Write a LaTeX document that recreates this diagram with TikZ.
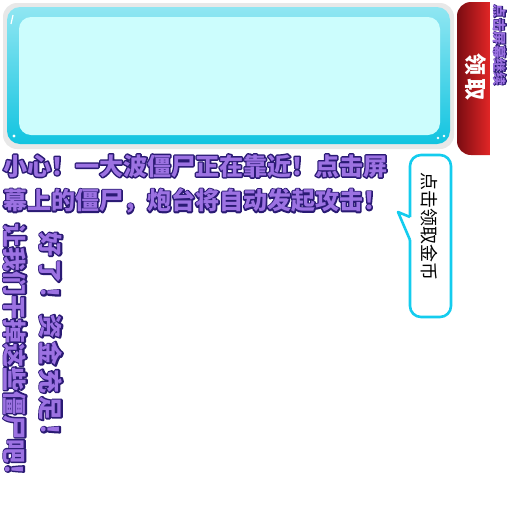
\documentclass[tikz,border=0pt]{standalone}
\usepackage{fontspec}
\usepackage{tikz}
\newfontfamily\cjk{Noto Sans CJK SC}
\definecolor{frameTop}{HTML}{90E6F2}
\definecolor{frameBot}{HTML}{12C4E0}
\definecolor{panelIn}{HTML}{CCFDFD}
\definecolor{tabDark}{HTML}{7A0C12}
\definecolor{tabLight}{HTML}{E22626}
\definecolor{tipFill}{HTML}{9C72E2}
\definecolor{tipLine}{HTML}{2A1A74}
\definecolor{bubLine}{HTML}{14CCEE}
% outlined text: a heavily emboldened dark copy under the purple one
\newcommand{\tiptext}[2][12]{\makebox[0pt][l]{\addfontfeature{FakeBold=#1}\textcolor{tipLine}{#2}}\textcolor{tipFill}{#2}}

\begin{document}
\begin{tikzpicture}[x=1pt,y=-1pt,
	tipnode/.style={inner sep=0pt,line join=round,font=\cjk\bfseries\fontsize{24}{24}\selectfont},
	vertnode/.style={tipnode,rotate=-90}]
			%%%%% START %%%%%
			\useasboundingbox (0,0) rectangle (512,512);
			
			% panel
			\fill[gray!18, rounded corners=14pt] (3,3) rectangle (454,149);
			\shade[top color=frameTop, bottom color=frameBot, rounded corners=13pt] (7,7) rectangle (450,144);
			\fill[panelIn, rounded corners=12pt] (19,17) rectangle (440,135);
			\fill[white] (14,136) circle (1.6);
			\fill[white] (438,138) circle (1.4);
			\fill[white] (444,136) circle (1.4);
			\draw[white, line width=1.2pt] (11,24) -- (13,15);
			
			% red tab
			\shade[left color=tabDark, right color=tabLight] (490,2) {[rounded corners=14pt] -- (457,2) -- (457,155)} -- (490,155) -- cycle;
			\node[rotate=-90, text=white, font=\cjk\bfseries\fontsize{22}{22}\selectfont\addfontfeature{LetterSpace=12}] (take) at (476,77) {领取};
			\node[rotate=-90, inner sep=0pt, line join=round, font=\cjk\bfseries\fontsize{13.5}{13.5}\selectfont] (tapgo) at (500,45) {\tiptext[9]{点击屏幕继续}};
			
			% main tip
			\node[tipnode, anchor=west] (line1) at (3,166) {\tiptext{小心！一大波僵尸正在靠近！点击屏}};
			\node[tipnode, anchor=west] (line2) at (3,201) {\tiptext{幕上的僵尸，炮台将自动发起攻击！}};
			
			\node[vertnode] (killall) at (15,355) {\tiptext{让我们干掉这些僵尸吧！}};
			\node[vertnode, font=\cjk\bfseries\fontsize{24}{24}\selectfont\addfontfeature{LetterSpace=14}] (richnow) at (51,340) {\tiptext{好了！资金充足！}};
			
			% bubble
			\draw[bubLine, fill=white, line width=2.6pt, rounded corners=11pt] (410,217) -- (410,155) -- (451,155) -- (451,317) -- (410,317) -- (410,240);
			\draw[bubLine, fill=white, line width=2.6pt, line join=round] (410,217) -- (398,212) -- (410,240);
			\fill[white] (411.5,216) rectangle (416,241);
			\node[rotate=-90, font=\cjk\fontsize{18}{18}\selectfont] (coins) at (429,226) {点击领取金币};
			
			%%%%% END %%%%%
		\end{tikzpicture}
\end{document}
